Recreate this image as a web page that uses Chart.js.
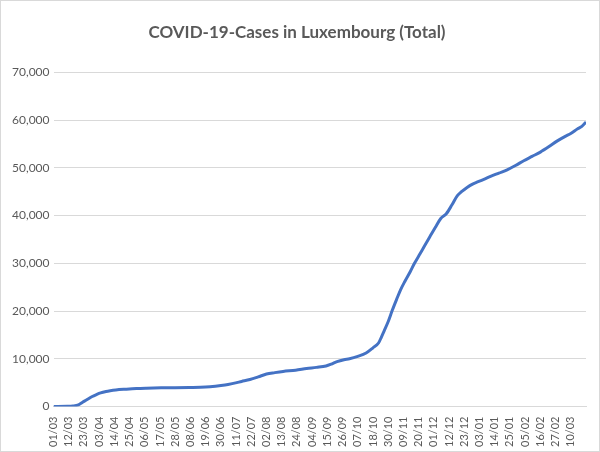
<!DOCTYPE html>
<html lang="en">
<head>
  <meta charset="UTF-8">
  <title>COVID-19-Cases in Luxembourg (Total)</title>
  <script src="https://cdn.jsdelivr.net/npm/chart.js"></script>
  <style>
    html, body { margin: 0; padding: 0; background: #fff; }
    #wrap { width: 598px; height: 450px; border: 1px solid #d9d9d9; position: relative; }
  </style>
</head>
<body>
  <div id="wrap"><canvas id="chart"></canvas></div>

  <script>
    // day offsets counted from 01/03/2020, and total cases
    const days = [0, 10, 14, 18, 21, 24, 28, 31, 34, 38, 41, 45, 52, 60, 67, 80, 98, 110, 117, 124,
      130, 136, 142, 148, 154, 160, 166, 175, 183, 190, 197, 201, 205, 210, 214, 220, 226, 231, 235, 237,
      239, 242, 245, 248, 251, 254, 258, 261, 265, 268, 272, 276, 280, 284, 288, 292, 295, 299, 303, 307,
      312, 316, 322, 328, 334, 340, 346, 352, 358, 364, 370, 374, 379, 382, 385];
    const cases = [0, 30, 100, 350, 900, 1400, 2100, 2500, 2850, 3150, 3300, 3450, 3620, 3780, 3850, 3920, 3990, 4080, 4250, 4500,
      4850, 5250, 5650, 6200, 6800, 7100, 7350, 7600, 7950, 8200, 8500, 8900, 9400, 9800, 10000, 10500, 11200, 12300, 13300, 14500,
      15800, 17800, 20200, 22400, 24500, 26200, 28300, 30000, 32000, 33500, 35500, 37500, 39400, 40400, 42200, 44200, 45000, 45900, 46600, 47100,
      47700, 48200, 48900, 49600, 50500, 51500, 52400, 53300, 54400, 55600, 56600, 57200, 58200, 58700, 59600];

    // one label every 11 days
    const tickLabels = ['01/03', '12/03', '23/03', '03/04', '14/04', '25/04', '06/05', '17/05', '28/05', '08/06',
      '19/06', '30/06', '11/07', '22/07', '02/08', '13/08', '24/08', '04/09', '15/09', '26/09',
      '07/10', '18/10', '30/10', '09/11', '20/11', '01/12', '12/12', '23/12', '03/01', '14/01',
      '25/01', '05/02', '16/02', '27/02', '10/03'];
    const tickStep = 11;

    const points = days.map((d, i) => ({ x: d, y: cases[i] }));
    const gray = '#595959';
    const fontFamily = 'Lato, "Open Sans", sans-serif';

    new Chart(document.getElementById('chart'), {
      type: 'line',
      data: {
        datasets: [{
          data: points,
          borderColor: '#4472c4',
          borderWidth: 3,
          pointRadius: 0,
          cubicInterpolationMode: 'monotone',
          fill: false
        }]
      },
      options: {
        responsive: true,
        maintainAspectRatio: false,
        animation: false,
        layout: { padding: { left: 7, right: 13, top: 4, bottom: 2 } },
        plugins: {
          legend: { display: false },
          tooltip: { enabled: false },
          title: {
            display: true,
            text: 'COVID-19-Cases in Luxembourg (Total)',
            color: gray,
            font: { family: fontFamily, size: 17, weight: 'bold' },
            padding: { top: 17, bottom: 30 }
          }
        },
        scales: {
          x: {
            type: 'linear',
            min: 0,
            max: 385,
            afterBuildTicks: (axis) => {
              axis.ticks = tickLabels.map((_, i) => ({ value: i * tickStep }));
            },
            grid: { display: false },
            border: { display: true, color: '#d9d9d9' },
            ticks: {
              autoSkip: false,
              minRotation: 90,
              maxRotation: 90,
              padding: 2,
              color: gray,
              font: { family: fontFamily, size: 11 },
              callback: (v) => tickLabels[Math.round(v / tickStep)]
            }
          },
          y: {
            min: 0,
            max: 70000,
            ticks: {
              stepSize: 10000,
              padding: 4,
              color: gray,
              font: { family: fontFamily, size: 12 },
              callback: (v) => v.toLocaleString('en-US')
            },
            grid: { color: '#d9d9d9', drawTicks: false },
            border: { display: false }
          }
        }
      }
    });
  </script>
</body>
</html>
